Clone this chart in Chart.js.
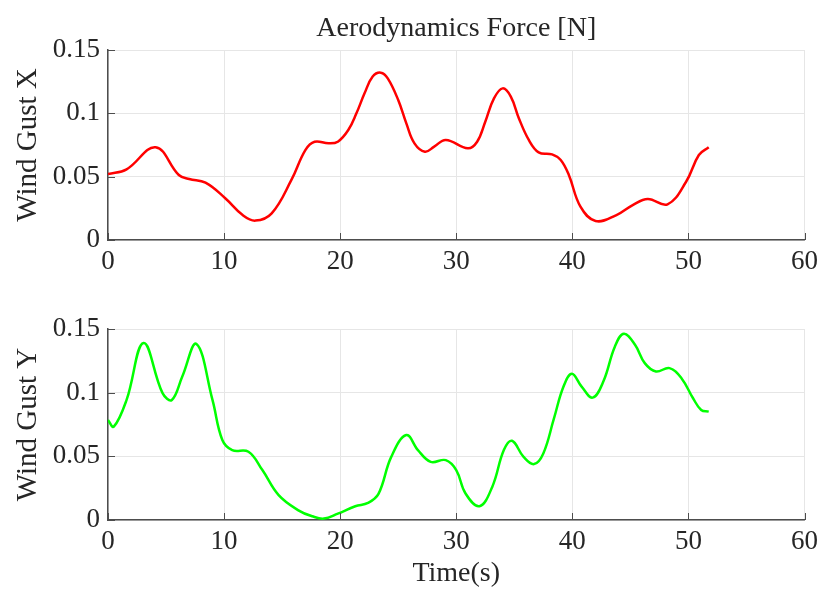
<!DOCTYPE html>
<html>
<head>
<meta charset="utf-8">
<script src="https://cdn.jsdelivr.net/npm/chart.js@4/dist/chart.umd.min.js"></script>
<style>
  html, body { margin: 0; padding: 0; background: #fff; }
  #wrap { position: relative; width: 824px; height: 590px; }
  .pane { position: absolute; left: 0; width: 824px; height: 295px; }
  #paneX { top: 0; }
  #paneY { top: 295px; }
</style>
</head>
<body>
<div id="wrap">
  <div class="pane" id="paneX"><canvas id="gustX"></canvas></div>
  <div class="pane" id="paneY"><canvas id="gustY"></canvas></div>
</div>
<script>
  'use strict';

  // axis ticks
  const TIME_TICKS = [0, 10, 20, 30, 40, 50, 60];
  const FORCE_TICKS = [0, 0.05, 0.1, 0.15];

  // wind gust X force
  const gustXTime = [0, 1.6, 4.1, 6.1, 7.0, 8.4, 10.1, 11.6, 12.7, 14.1, 15.8, 17.0, 17.8, 19.0, 19.8, 20.7, 21.4, 22.1, 22.8, 23.5, 24.1, 25.0, 25.7, 26.4, 27.3, 28.1, 29.1, 31.0, 31.8, 32.5, 33.25, 34.0, 34.7, 35.4, 36.25, 37.1, 38.25, 39.0, 39.7, 40.7, 42.0, 43.8, 45.2, 46.5, 48.2, 49.8, 50.9, 51.75];
  const gustXValue = [0.052, 0.0558, 0.0732, 0.0513, 0.0482, 0.0453, 0.033, 0.0197, 0.0153, 0.021, 0.0474, 0.071, 0.0776, 0.0763, 0.0776, 0.0868, 0.100, 0.1158, 0.129, 0.1321, 0.1276, 0.1105, 0.0921, 0.0763, 0.0697, 0.0737, 0.079, 0.0724, 0.0776, 0.0934, 0.1118, 0.1197, 0.1132, 0.096, 0.079, 0.0692, 0.0676, 0.0632, 0.0513, 0.0263, 0.015, 0.0197, 0.0276, 0.0324, 0.0282, 0.046, 0.0671, 0.0732];

  // wind gust Y force
  const gustYTime = [0, 0.5, 1.6, 3.06, 4.7, 5.5, 6.4, 7.62, 9.0, 9.85, 10.7, 12.1, 13.3, 14.7, 16.4, 17.6, 18.6, 19.8, 21.3, 22.4, 23.3, 24.4, 25.7, 26.7, 27.8, 29.1, 30.0, 30.8, 32.0, 33.1, 34.1, 34.8, 35.8, 36.7, 37.5, 38.4, 39.24, 39.96, 40.8, 41.75, 42.67, 43.67, 44.44, 45.4, 46.24, 47.2, 48.37, 49.4, 50.4, 51.1, 51.75];
  const gustYValue = [0.0785, 0.0733, 0.0943, 0.139, 0.0996, 0.0943, 0.1127, 0.1382, 0.0943, 0.0628, 0.0549, 0.0536, 0.0392, 0.0195, 0.0076, 0.0029, 0.0011, 0.005, 0.0108, 0.0134, 0.0205, 0.0496, 0.0667, 0.0549, 0.0457, 0.047, 0.0392, 0.0208, 0.0108, 0.026, 0.0549, 0.0622, 0.0496, 0.0439, 0.0523, 0.0792, 0.1048, 0.1148, 0.1048, 0.0961, 0.1087, 0.1363, 0.1463, 0.1376, 0.1232, 0.1166, 0.1193, 0.1114, 0.0956, 0.0864, 0.0851];

  const FONT_FAMILY = '"Liberation Serif", "DejaVu Serif", serif';
  const TEXT_COLOR = '#262626';
  const AXIS_COLOR = '#4d4d4d';
  const GRID_COLOR = '#e6e6e6';

  // short tick marks pointing into the plot, drawn over the data
  const innerTicks = {
    id: 'innerTicks',
    afterDatasetsDraw(chart) {
      const ctx = chart.ctx;
      const area = chart.chartArea;
      const len = 7;
      ctx.save();
      ctx.strokeStyle = AXIS_COLOR;
      ctx.lineWidth = 1;
      ctx.beginPath();
      chart.scales.x.ticks.forEach(t => {
        const px = Math.round(chart.scales.x.getPixelForValue(t.value)) + 0.5;
        ctx.moveTo(px, area.bottom);
        ctx.lineTo(px, area.bottom - len);
      });
      chart.scales.y.ticks.forEach(t => {
        const py = Math.round(chart.scales.y.getPixelForValue(t.value)) + 0.5;
        ctx.moveTo(area.left, py);
        ctx.lineTo(area.left + len, py);
      });
      ctx.stroke();
      ctx.restore();
    }
  };

  function pairs(xs, ys) {
    return xs.map((x, i) => ({ x: x, y: ys[i] }));
  }

  function createGustChart(canvasId, opts) {
    const ctx = document.getElementById(canvasId).getContext('2d');
    return new Chart(ctx, {
      type: 'line',
      data: {
        datasets: [{
          data: pairs(opts.time, opts.value),
          borderColor: opts.color,
          borderWidth: 2.5,
          pointRadius: 0,
          tension: 0.4,
          fill: false
        }]
      },
      options: {
        responsive: true,
        maintainAspectRatio: false,
        animation: false,
        layout: { padding: { top: opts.padTop, left: 0, right: 15, bottom: 0 } },
        plugins: {
          legend: { display: false },
          tooltip: { enabled: false },
          title: {
            display: !!opts.title,
            text: opts.title || '',
            fullSize: false,
            color: TEXT_COLOR,
            font: { family: FONT_FAMILY, size: 28, weight: 'normal' },
            padding: { top: 12, bottom: 4.4 }
          }
        },
        scales: {
          x: {
            type: 'linear',
            min: 0,
            max: 60,
            afterBuildTicks: scale => { scale.ticks = TIME_TICKS.map(v => ({ value: v })); },
            afterFit: scale => { scale.height = opts.xAxisHeight; },
            ticks: {
              color: TEXT_COLOR,
              font: { family: FONT_FAMILY, size: 27 },
              padding: 6,
              maxRotation: 0,
              callback: v => String(v)
            },
            grid: { color: GRID_COLOR, drawTicks: false },
            border: { color: AXIS_COLOR, width: 1.5 },
            title: {
              display: !!opts.xTitle,
              text: opts.xTitle || '',
              color: TEXT_COLOR,
              font: { family: FONT_FAMILY, size: 28 },
              padding: 0
            }
          },
          y: {
            min: 0,
            max: 0.15,
            afterBuildTicks: scale => { scale.ticks = FORCE_TICKS.map(v => ({ value: v })); },
            afterFit: scale => { scale.width = 108; },
            ticks: {
              color: TEXT_COLOR,
              font: { family: FONT_FAMILY, size: 27 },
              padding: 8,
              callback: v => String(Math.round(v * 100) / 100)
            },
            grid: { color: GRID_COLOR, drawTicks: false },
            border: { color: AXIS_COLOR, width: 1.5 },
            title: {
              display: true,
              text: opts.yTitle,
              color: TEXT_COLOR,
              font: { family: FONT_FAMILY, size: 29 },
              padding: { top: 11, bottom: 0 }
            }
          }
        }
      },
      plugins: [innerTicks]
    });
  }

  createGustChart('gustX', {
    time: gustXTime,
    value: gustXValue,
    color: '#ff0000',
    title: 'Aerodynamics Force [N]',
    yTitle: 'Wind Gust X',
    padTop: 0,
    xAxisHeight: 55
  });

  createGustChart('gustY', {
    time: gustYTime,
    value: gustYValue,
    color: '#00ff00',
    yTitle: 'Wind Gust Y',
    xTitle: 'Time(s)',
    padTop: 34,
    xAxisHeight: 70
  });
</script>
</body>
</html>
